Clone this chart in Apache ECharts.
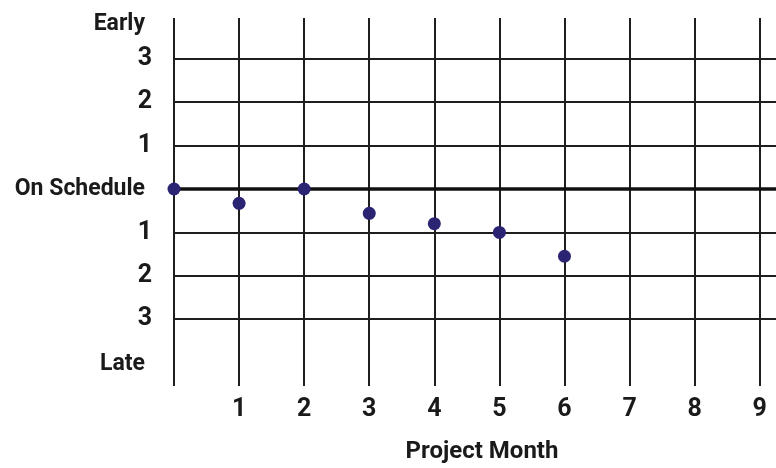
<!DOCTYPE html>
<html>
<head>
<meta charset="utf-8">
<script src="https://cdn.jsdelivr.net/npm/echarts@6/dist/echarts.min.js"></script>
<style>html,body{margin:0;padding:0;background:#fff}#c{width:776px;height:468px}</style>
</head>
<body>
<div id="c"></div>
<script>
var months = [0, 1, 2, 3, 4, 5, 6];
var scheduleDelta = [0, -0.33, 0, -0.56, -0.8, -1.0, -1.55];
var xTickValues = [1, 2, 3, 4, 5, 6, 7, 8, 9];
var xGridValues = [0, 1, 2, 3, 4, 5, 6, 7, 8, 9];
var yGridValues = [3, 2, 1, -1, -2, -3];
var yLabelValues = [3.8, 3, 2, 1, 0, -1, -2, -3, -4.03];
var yLabelTexts = ['Early', '3', '2', '1', 'On Schedule', '1', '2', '3', 'Late'];
var xTitle = 'Project Month';

var FONT = "Roboto, 'Liberation Sans', sans-serif";
var lineColor = '#1e1e1e';

var markData = [];
xGridValues.forEach(function (v) {
  markData.push({ xAxis: v, lineStyle: { color: lineColor, width: 2, type: 'solid' } });
});
yGridValues.forEach(function (v) {
  markData.push({ yAxis: v, lineStyle: { color: lineColor, width: 2, type: 'solid' } });
});
markData.push({ yAxis: 0, lineStyle: { color: '#111', width: 3.5, type: 'solid' } });

var chart = echarts.init(document.getElementById('c'), null, { renderer: 'canvas' });
chart.setOption({
  animation: false,
  backgroundColor: '#fff',
  title: {
    text: xTitle,
    left: 477,
    top: 435,
    textAlign: 'center',
    textStyle: { fontFamily: FONT, fontWeight: 'bold', fontSize: 24, color: '#1a1a1a' }
  },
  grid: { left: 174, right: 0, top: 18, bottom: 82, containLabel: false, outerBoundsMode: 'none' },
  xAxis: {
    type: 'value',
    min: 0,
    max: 9.25,
    axisLine: { show: false },
    axisTick: { show: false },
    splitLine: { show: false },
    axisLabel: {
      customValues: xTickValues,
      margin: 11,
      fontFamily: FONT,
      fontWeight: 'bold',
      fontSize: 25,
      color: '#1a1a1a'
    }
  },
  yAxis: {
    type: 'value',
    min: -4.54,
    max: 3.94,
    axisLine: { show: false },
    axisTick: { show: false },
    splitLine: { show: false },
    axisLabel: {
      customValues: yLabelValues,
      margin: 22,
      fontFamily: FONT,
      fontWeight: 'bold',
      fontSize: 23,
      color: '#1a1a1a',
      formatter: function (v) {
        var i = -1;
        for (var k = 0; k < yLabelValues.length; k++) {
          if (Math.abs(yLabelValues[k] - v) < 1e-6) { i = k; }
        }
        if (i < 0) return '';
        var t = yLabelTexts[i];
        return /^[0-9]+$/.test(t) ? '{d|' + t + '}' : '{w|' + t + '}';
      },
      rich: {
        d: { fontFamily: FONT, fontWeight: 'bold', fontSize: 25, color: '#1a1a1a' },
        w: { fontFamily: FONT, fontWeight: 'bold', fontSize: 23, color: '#1a1a1a', padding: [0, 7, 0, 0] }
      }
    }
  },
  series: [
    {
      type: 'line',
      data: [],
      z: 1,
      silent: true,
      markLine: {
        silent: true,
        symbol: ['none', 'none'],
        label: { show: false },
        animation: false,
        data: markData
      }
    },
    {
      type: 'scatter',
      z: 5,
      symbolSize: 13,
      itemStyle: { color: '#2b2472', opacity: 1 },
      data: months.map(function (m, i) { return [m, scheduleDelta[i]]; })
    }
  ]
});
</script>
</body>
</html>
